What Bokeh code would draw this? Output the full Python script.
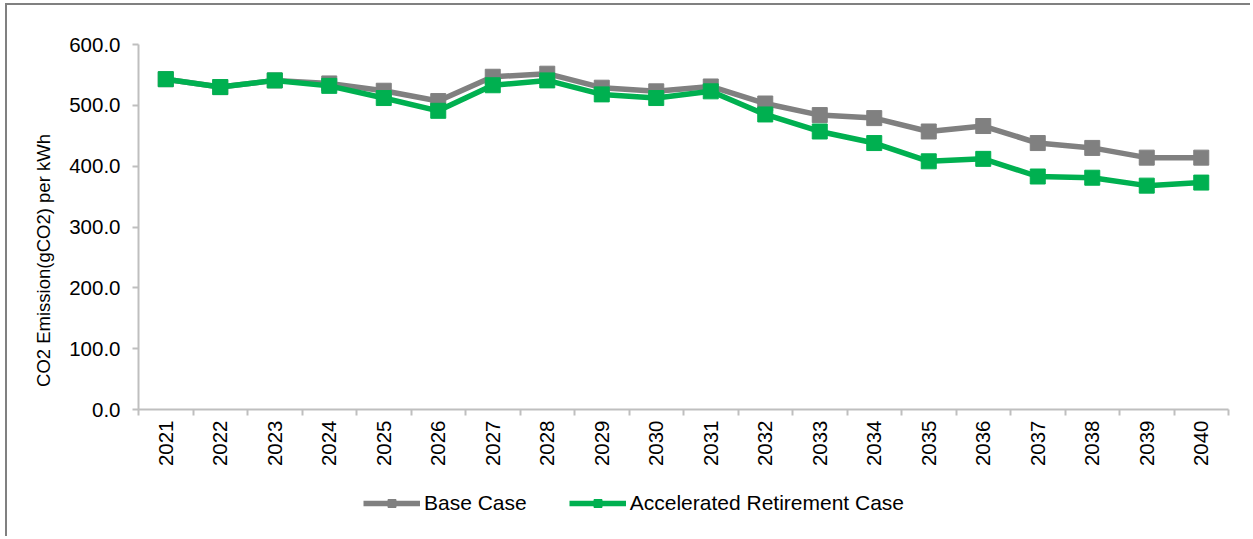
import math
from bokeh.plotting import figure
from bokeh.models import (ColumnDataSource, FixedTicker, NumeralTickFormatter, Range1d,
                          Legend, LegendItem, Label, LinearAxis)
from bokeh.embed import file_html
from bokeh.resources import INLINE

years = ["2021", "2022", "2023", "2024", "2025", "2026", "2027", "2028", "2029", "2030",
         "2031", "2032", "2033", "2034", "2035", "2036", "2037", "2038", "2039", "2040"]
base_case = [543, 530, 541, 536, 524, 507, 547, 552, 529, 523,
             531, 503, 484, 479, 457, 466, 438, 430, 414, 414]
accelerated = [543, 530, 541, 532, 512, 491, 533, 541, 518, 512,
               523, 485, 457, 438, 408, 412, 383, 381, 368, 373]
y_ticks = [0, 100, 200, 300, 400, 500, 600]

n = len(years)
xs = list(range(1, n + 1))
src = ColumnDataSource(dict(x=xs, base=base_case, acc=accelerated))

FONT = "Liberation Sans"
GRAY = "#808080"
GREEN = "#00b050"
AXIS = "#bfbfbf"

# layout (pixels inside the canvas)
W, H = 1245, 533
AX_LEFT, AX_W = 131, 1090      # x = 0.5 .. n+0.5
AX_TOP, AX_H = 39, 365         # y = 600 .. 0
YMAX = 600
xpp = n / AX_W
ypp = YMAX / AX_H
x_range = Range1d(0.5 - AX_LEFT * xpp, n + 0.5 + (W - AX_LEFT - AX_W) * xpp)
y_range = Range1d(-(H - AX_TOP - AX_H) * ypp, YMAX + AX_TOP * ypp)

p = figure(width=W, height=H, output_backend="svg", toolbar_location=None,
           x_range=x_range, y_range=y_range, x_axis_location=None, y_axis_location=None,
           min_border=0, min_border_left=0, min_border_right=0,
           min_border_top=0, min_border_bottom=0)
p.styles = {"border-top": "2px solid #808080", "border-left": "2px solid #808080",
            "margin-left": "5px", "margin-top": "3px"}
p.outline_line_color = None
p.xgrid.grid_line_color = None
p.ygrid.grid_line_color = None
p.background_fill_color = "white"
p.border_fill_color = "white"

xaxis = LinearAxis(fixed_location=0, bounds=(0.5, n + 0.5),
                   ticker=FixedTicker(ticks=xs, minor_ticks=[i + 0.5 for i in range(0, n + 1)]))
xaxis.major_label_overrides = {x: y for x, y in zip(xs, years)}
xaxis.major_label_orientation = math.pi / 2
xaxis.major_tick_line_color = None
xaxis.minor_tick_line_color = AXIS
xaxis.minor_tick_in = 0
xaxis.minor_tick_out = 6
xaxis.minor_tick_line_width = 2
xaxis.axis_line_color = AXIS
xaxis.axis_line_width = 2
xaxis.major_label_standoff = 5
xaxis.major_label_text_font = FONT
xaxis.major_label_text_font_size = "20.5px"
xaxis.major_label_text_color = "black"
p.add_layout(xaxis, "below")

yaxis = LinearAxis(fixed_location=0.5, bounds=(0, YMAX),
                   ticker=FixedTicker(ticks=y_ticks, minor_ticks=[]),
                   formatter=NumeralTickFormatter(format="0.0"))
yaxis.axis_line_color = AXIS
yaxis.axis_line_width = 2
yaxis.major_tick_line_color = AXIS
yaxis.major_tick_line_width = 2
yaxis.major_tick_in = 0
yaxis.major_tick_out = 6
yaxis.minor_tick_line_color = None
yaxis.major_label_standoff = 12
yaxis.major_label_text_font = FONT
yaxis.major_label_text_font_size = "20.5px"
yaxis.major_label_text_color = "black"
p.add_layout(yaxis, "left")

l1 = p.line("x", "base", source=src, line_color=GRAY, line_width=5.5, line_join="round")
s1 = p.scatter("x", "base", source=src, marker="square", size=15, fill_color=GRAY, line_color=GRAY)
l2 = p.line("x", "acc", source=src, line_color=GREEN, line_width=5.5, line_join="round")
s2 = p.scatter("x", "acc", source=src, marker="square", size=15, fill_color=GREEN, line_color=GREEN)

p.add_layout(Label(x=36, y=278, x_units="screen", y_units="screen",
                   text="CO2 Emission(gCO2) per kWh", angle=math.pi / 2,
                   text_align="center", text_baseline="middle",
                   text_font=FONT, text_font_size="18.5px", text_color="black"))

legend = Legend(items=[LegendItem(label="Base Case", renderers=[l1, s1]),
                       LegendItem(label="Accelerated Retirement Case", renderers=[l2, s2])],
                orientation="horizontal", location=(356, 23), margin=0,
                glyph_width=57, glyph_height=20, label_standoff=4, spacing=42, padding=0,
                border_line_color=None, background_fill_alpha=0,
                label_text_font=FONT, label_text_font_size="21px", label_text_color="black")
p.add_layout(legend, "center")

open("out.html", "w").write(file_html(p, INLINE))
